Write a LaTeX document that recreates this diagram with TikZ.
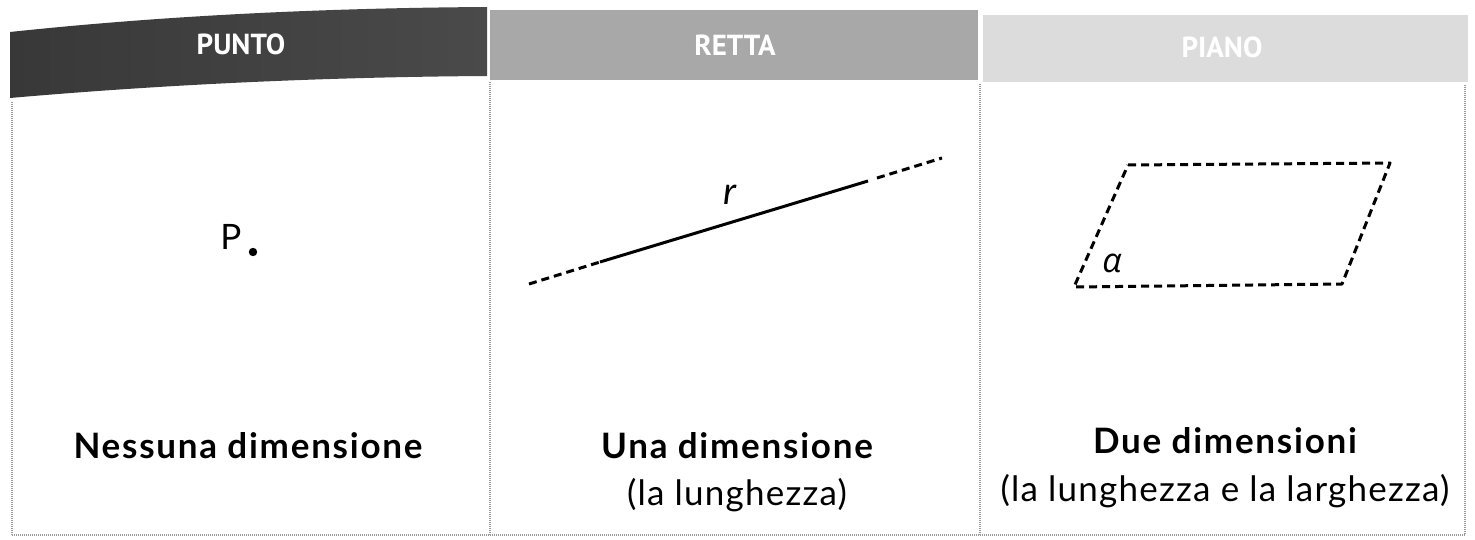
\documentclass[tikz,border=0pt]{standalone}
\usepackage{fontspec}
\setmainfont{Lato}
\newfontfamily\headfont{PT Sans}
\newfontfamily\greekfont{Open Sans}
\usetikzlibrary{calc}
\definecolor{bandA}{HTML}{4A4A4A}
\definecolor{bandAl}{HTML}{383838}
\definecolor{bandB}{HTML}{A8A8A8}
\definecolor{bandC}{HTML}{DCDCDC}
\definecolor{sepgray}{HTML}{9A9A9A}
\tikzset{
  header/.style={font=\headfont\bfseries\fontsize{29}{32}\selectfont, text=white, inner sep=0pt},
  title/.style={font=\bfseries\fontsize{35}{40}\selectfont\addfontfeatures{LetterSpace=5}, inner sep=0pt, anchor=base},
  subtitle/.style={font=\fontsize{35}{40}\selectfont\addfontfeatures{LetterSpace=3.5}, inner sep=0pt, anchor=base},
  sep/.style={sepgray, line width=2.2pt, dash pattern=on 1pt off 1pt},
  dashline/.style={line width=3pt, dash pattern=on 8pt off 5pt},
  solidline/.style={line width=3pt},
}
\begin{document}
\begin{tikzpicture}[x=1pt,y=-1pt]
\useasboundingbox (0,0) rectangle (1475,540);
\fill[white] (0,0) rectangle (1475,540);
% header bands
\shade[left color=bandAl, right color=bandA]
  (10,32) .. controls (170,15) and (330,8) .. (487,7) -- (487,76)
  .. controls (330,77) and (170,84) .. (10,98) -- cycle;
\fill[bandB] (490,10) rectangle (978,80);
\fill[bandC] (983,15) rectangle (1468,82);
\node[header] (h1) at (241,44) {PUNTO};
\node[header] (h2) at (735,45) {RETTA};
\node[header] (h3) at (1222,47) {PIANO};
% separators
\coordinate (s0t) at (12,102);  \coordinate (s0b) at (12,535);
\coordinate (s1t) at (490,82);  \coordinate (s1b) at (490,535);
\coordinate (s2t) at (980,84);  \coordinate (s2b) at (980,535);
\coordinate (s3t) at (1465,85); \coordinate (s3b) at (1465,535);
\draw[sep] (s0t) -- (s0b);
\draw[sep] (s1t) -- (s1b);
\draw[sep] (s2t) -- (s2b);
\draw[sep] (s3t) -- (s3b);
\draw[sep] (s0b) -- (s3b);
% point
\node[font=\fontsize{35}{38}\selectfont, inner sep=0pt, anchor=base] (P) at (231,250) {P};
\fill (253,252) circle (4.2);
% line
\coordinate (r0) at (529,284);
\coordinate (r1) at (600,262);
\coordinate (r2) at (868,181);
\coordinate (r3) at (877,178);
\coordinate (r4) at (942,158);
\draw[dashline] (r0) -- (r1);
\draw[solidline] (r1) -- (r2);
\draw[dashline] (r3) -- (r4);
\node[font=\itshape\fontsize{38}{40}\selectfont, inner sep=0pt, anchor=base] (r) at (730,205) {r};
% plane
\coordinate (a1) at (1128,165);
\coordinate (a2) at (1390,163);
\coordinate (a3) at (1342,284);
\coordinate (a4) at (1074,287);
\draw[dashline, line join=round] (a1) -- (a2) -- (a3) -- (a4) -- cycle;
\node[font=\greekfont\itshape\fontsize{34}{36}\selectfont, inner sep=0pt, anchor=base] (alpha) at (1112,272) {α};
% captions
\node[title] (t1) at (248,458) {Nessuna dimensione};
\node[title] (t2) at (737,458) {Una dimensione};
\node[subtitle] (u2) at (737,505) {(la lunghezza)};
\node[title] (t3) at (1225,453) {Due dimensioni};
\node[subtitle] (u3) at (1225,501) {(la lunghezza e la larghezza)};
\end{tikzpicture}
\end{document}
